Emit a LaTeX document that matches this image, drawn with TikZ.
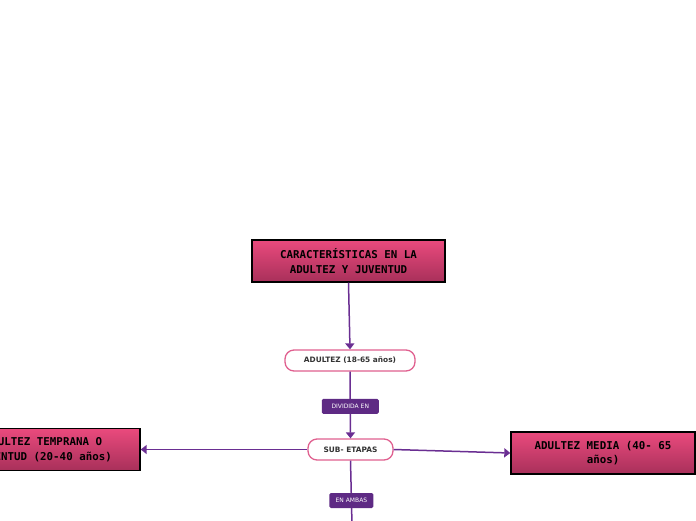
\documentclass[tikz,border=0pt]{standalone}
\usepackage{fontspec}
\setmainfont{DejaVu Sans}
\newfontfamily\monobold{DejaVu Sans Mono}
\usetikzlibrary{arrows.meta}
\definecolor{pinktop}{HTML}{EA4A7D}
\definecolor{pinkbot}{HTML}{A8305A}
\definecolor{pinkedge}{HTML}{E0608F}
\definecolor{linepurple}{HTML}{6A2E92}
\definecolor{labelpurple}{HTML}{5E2A84}
\tikzset{
  mainbox/.style={draw=black, line width=1.4pt, top color=pinktop, bottom color=pinkbot,
    minimum width=193pt, minimum height=42pt, align=center,
    font=\monobold\fontsize{10.8}{14.5}\selectfont\bfseries, text=black},
  subbox/.style={draw=pinkedge, line width=1.3pt, fill=white, rounded corners=9pt,
    minimum height=21pt, align=center, font=\fontsize{7.4}{8}\selectfont\bfseries, text=black!80},
  tag/.style={fill=labelpurple, rounded corners=1.5pt, text=white, inner sep=0pt,
    minimum height=15pt, font=\fontsize{6}{7}\selectfont},
  conn/.style={draw=linepurple, line width=1.5pt},
  arr/.style={conn, -{Triangle[length=6pt,width=9pt]}}
}
\begin{document}
\begin{tikzpicture}[x=1pt,y=-1pt]
\useasboundingbox (0,0) rectangle (696,520);
\node[mainbox] (top) at (348.5,261) {CARACTERÍSTICAS EN LA\\ ADULTEZ Y JUVENTUD};
\node[subbox, minimum width=130pt] (adul) at (350,360.5) {ADULTEZ (18-65 años)};
\node[subbox, minimum width=85pt] (sub) at (350.5,449.5) {SUB- ETAPAS};
\node[mainbox] (left) at (43.5,449.5) {ADULTEZ TEMPRANA O\\JUVENTUD (20-40 años)};
\node[mainbox, minimum width=184pt] (right) at (603,453) {ADULTEZ MEDIA (40- 65\\años)};
\coordinate (bot) at (352,525);
\draw[arr] (top.south) -- (adul.north);
\draw[arr] (adul.south) -- node[tag, minimum width=57pt, pos=0.52] (t1) {DIVIDIDA EN} (sub.north);
\draw[arr] (sub.west) -- (left.east);
\draw[arr] (sub.east) -- (right.west);
\draw[conn] (sub.south) -- node[tag, minimum width=44pt, pos=0.62] (t2) {EN AMBAS} (bot);
\end{tikzpicture}
\end{document}
